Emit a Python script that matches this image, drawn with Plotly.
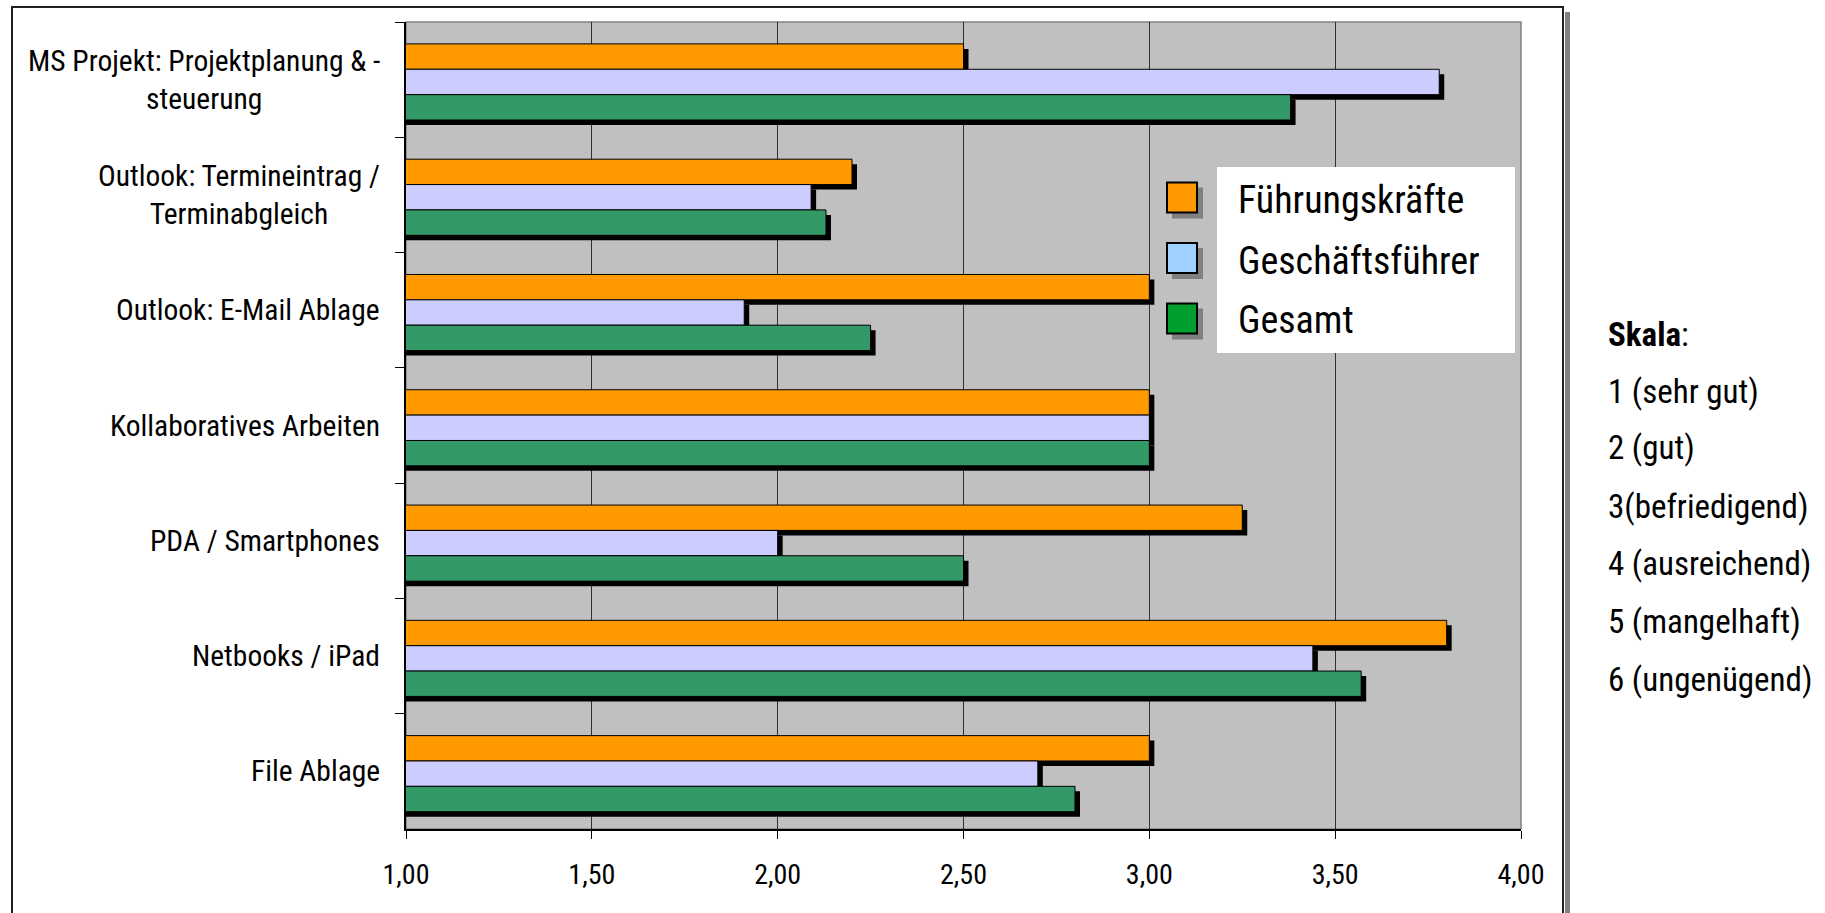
import plotly.graph_objects as go

# ---------------- data ----------------
categories = [
    "MS Projekt: Projektplanung & - steuerung",
    "Outlook: Termineintrag / Terminabgleich",
    "Outlook: E-Mail Ablage",
    "Kollaboratives Arbeiten",
    "PDA / Smartphones",
    "Netbooks / iPad",
    "File Ablage",
]
category_labels = [
    "MS Projekt: Projektplanung & -<br>steuerung",
    "Outlook: Termineintrag /<br>Terminabgleich",
    "Outlook: E-Mail Ablage",
    "Kollaboratives Arbeiten",
    "PDA / Smartphones",
    "Netbooks / iPad",
    "File Ablage",
]
series_names = ["Führungskräfte", "Geschäftsführer", "Gesamt"]
fuehrungskraefte = [2.50, 2.20, 3.00, 3.00, 3.25, 3.80, 3.00]
geschaeftsfuehrer = [3.78, 2.09, 1.91, 3.00, 2.00, 3.44, 2.70]
gesamt = [3.38, 2.13, 2.25, 3.00, 2.50, 3.57, 2.80]
x_ticks = [1.0, 1.5, 2.0, 2.5, 3.0, 3.5, 4.0]
scale_lines = [
    "<b>Skala</b>:",
    "1 (sehr gut)",
    "2 (gut)",
    "3(befriedigend)",
    "4 (ausreichend)",
    "5 (mangelhaft)",
    "6 (ungenügend)",
]

# ---------------- styling ----------------
FONT = "Roboto Condensed, Liberation Sans, sans-serif"
bar_colors = ["#FF9900", "#CCCCFF", "#339966"]
legend_colors = ["#FF9900", "#A0D0FF", "#00A030"]

W, H = 1825, 913
PL, PR, PT, PB = 406, 1521, 22, 829
X_MIN, X_MAX = 1.0, 4.0

def px_x(p):
    return (p - PL) / (PR - PL)

def px_y(p):
    return (PB - p) / (PB - PT)

n_cat = len(categories)
bar_w = 0.22
offsets = [-0.31, -0.09, 0.13]
shadow_px = 5
dx = shadow_px * (X_MAX - X_MIN) / (PR - PL)
dy = shadow_px * n_cat / (PB - PT)

series = [fuehrungskraefte, geschaeftsfuehrer, gesamt]

fig = go.Figure()

# shadows
for i, vals in enumerate(series):
    fig.add_trace(go.Bar(
        y=categories, x=vals, base=dx, orientation="h",
        width=bar_w, offset=offsets[i] + dy,
        marker=dict(color="black", line=dict(width=0)),
        showlegend=False, hoverinfo="skip",
    ))

# main bars
for i, vals in enumerate(series):
    fig.add_trace(go.Bar(
        y=categories, x=vals, orientation="h",
        width=bar_w, offset=offsets[i], name=series_names[i],
        marker=dict(color=bar_colors[i], line=dict(color="black", width=1)),
        showlegend=False,
    ))

shapes = []
annotations = []

# plot-area border (top/right gray)
shapes.append(dict(type="rect", xref="x domain", yref="y domain", x0=0, x1=1, y0=0, y1=1,
                   line=dict(color="#808080", width=1.5), layer="below"))

# outer frame + shadow
shapes.append(dict(type="rect", xref="paper", yref="paper",
                   x0=px_x(1565), x1=px_x(1570), y0=px_y(12), y1=px_y(930),
                   fillcolor="#808080", line=dict(width=0), layer="above"))
shapes.append(dict(type="rect", xref="paper", yref="paper",
                   x0=px_x(12), x1=px_x(1563), y0=px_y(7), y1=px_y(930),
                   line=dict(color="#202020", width=2), layer="above"))

# custom legend
shapes.append(dict(type="rect", xref="paper", yref="paper",
                   x0=px_x(1217), x1=px_x(1515), y0=px_y(167), y1=px_y(353),
                   fillcolor="white", line=dict(width=0), layer="above"))
legend_y = [197.5, 258, 318.5]
legend_text_y = [200, 261, 320]
for i, name in enumerate(series_names):
    cy = legend_y[i]
    shapes.append(dict(type="rect", xref="paper", yref="paper",
                       x0=px_x(1172), x1=px_x(1203), y0=px_y(cy - 10), y1=px_y(cy + 21),
                       fillcolor="#808080", line=dict(width=0), layer="above"))
    shapes.append(dict(type="rect", xref="paper", yref="paper",
                       x0=px_x(1167), x1=px_x(1197), y0=px_y(cy - 15), y1=px_y(cy + 15),
                       fillcolor=legend_colors[i], line=dict(color="black", width=2), layer="above"))
    annotations.append(dict(xref="paper", yref="paper", x=px_x(1236), y=px_y(legend_text_y[i]),
                            text=name, showarrow=False, xanchor="left", yanchor="middle",
                            font=dict(size=38, color="black", family=FONT)))

# category labels (block right-aligned, lines centered)
for cat, lab in zip(categories, category_labels):
    annotations.append(dict(xref="paper", yref="y", x=0, y=cat, text=lab, showarrow=False,
                            xanchor="right", yanchor="middle", align="center", xshift=-24,
                            font=dict(size=29.5, color="black", family=FONT)))

# scale legend on the right
scale_y = [334, 391, 448, 506, 563, 621, 679]
for txt, yy in zip(scale_lines, scale_y):
    annotations.append(dict(xref="paper", yref="paper", x=px_x(1606), y=px_y(yy), text=txt,
                            showarrow=False, xanchor="left", yanchor="middle",
                            font=dict(size=33, color="black", family=FONT)))

fig.update_layout(
    width=W, height=H,
    margin=dict(l=PL, r=W - PR, t=PT, b=H - PB, pad=0),
    barmode="overlay",
    plot_bgcolor="#C0C0C0", paper_bgcolor="white",
    separators=",.",
    font=dict(family=FONT, color="black"),
    shapes=shapes, annotations=annotations,
    showlegend=False,
)
fig.update_xaxes(
    range=[X_MIN, X_MAX], tickvals=x_ticks, tickformat=".2f",
    ticks="outside", ticklen=8, tickcolor="black", tickwidth=1,
    showline=True, linecolor="black", linewidth=1.5,
    showgrid=True, gridcolor="#303030", gridwidth=1, zeroline=False,
    tickfont=dict(size=28, color="black", family=FONT), ticklabelstandoff=12,
)
fig.update_yaxes(
    type="category", categoryorder="array", categoryarray=categories,
    range=[n_cat - 0.5, -0.5],
    ticks="outside", tickson="boundaries", ticklen=9, tickcolor="black", tickwidth=1,
    showline=True, linecolor="black", linewidth=1.5,
    showticklabels=False, showgrid=False, zeroline=False,
)

fig.write_html("out.html", config={"displayModeBar": False},
               post_script="document.body.style.margin='0';")
